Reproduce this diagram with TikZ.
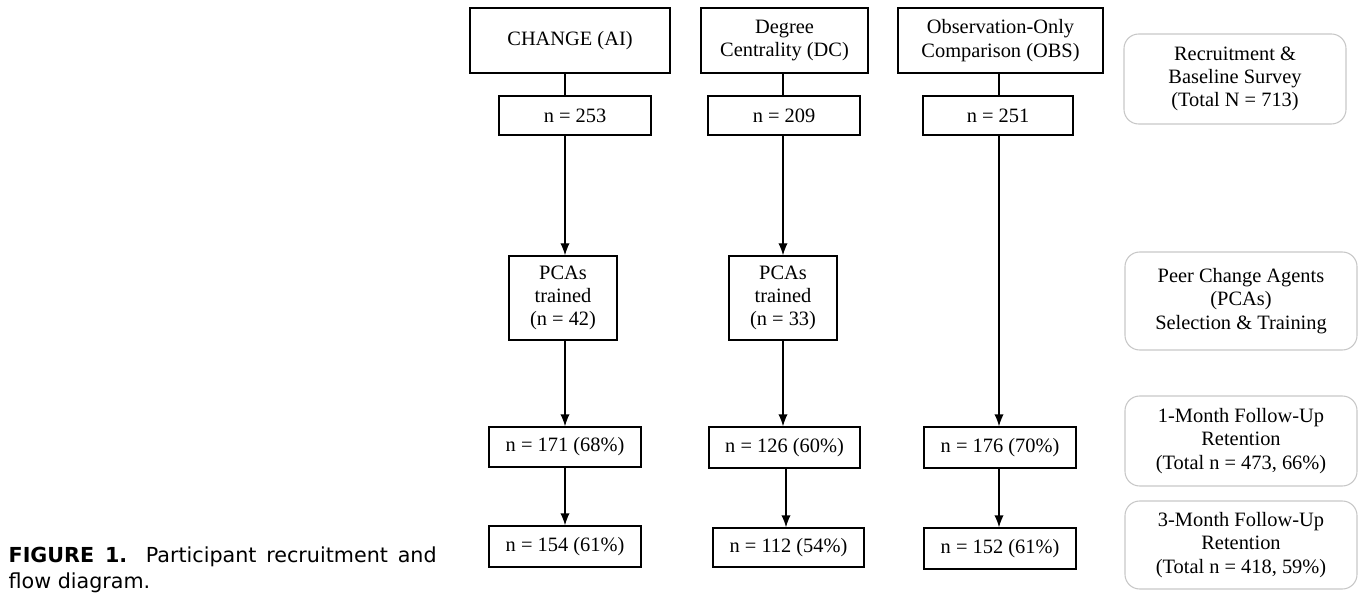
\documentclass[tikz,border=0pt]{standalone}
\usepackage{fontspec}
\setmainfont{Liberation Serif}
\newfontfamily\capfont{DejaVu Sans}
\usetikzlibrary{arrows.meta}
\tikzset{
	grp/.style    = {draw, line width=1pt, inner sep=0pt, align=center,
		font=\fontsize{15.3}{17.5}\selectfont},
	stage/.style  = {draw=black!22, line width=0.8pt, rounded corners=11pt,
		inner sep=0pt, align=center, font=\fontsize{15.3}{17.5}\selectfont},
	axis/.style   = {coordinate} % column line
}

\begin{document}
\begin{tikzpicture}[x=0.75pt, y=-0.75pt, line width=1pt, >={Latex[length=9pt,width=7pt]}]
\useasboundingbox (0,0) rectangle (1359,598);
\draw
node at (570,40.5) [grp, minimum width=150pt, minimum height=48.75pt] (t1) {CHANGE (AI)}
node at (784.5,40.5) [grp, minimum width=125.25pt, minimum height=48.75pt] (t2) {Degree\\Centrality (DC)}
node at (1000.5,40.5) [grp, minimum width=153.75pt, minimum height=48.75pt] (t3) {Observation-Only\\Comparison (OBS)}
node at (575,115.5) [grp, minimum width=114pt, minimum height=29.25pt] (n1) {n = 253}
node at (784,115.5) [grp, minimum width=114pt, minimum height=29.25pt] (n2) {n = 209}
node at (998,115.5) [grp, minimum width=112.5pt, minimum height=29.25pt] (n3) {n = 251}
node at (563,298) [grp, minimum width=81pt, minimum height=63pt] (p1) {PCAs\\trained\\(n = 42)}
node at (783,298) [grp, minimum width=81pt, minimum height=63pt] (p2) {PCAs\\trained\\(n = 33)}
node at (565,447) [grp, minimum width=114pt, minimum height=30pt] (f1) {n = 171 (68\%)}
node at (784.5,447.5) [grp, minimum width=113.25pt, minimum height=30.75pt] (f2) {n = 126 (60\%)}
node at (1000,447.5) [grp, minimum width=114pt, minimum height=30.75pt] (f3) {n = 176 (70\%)}
node at (565,546.5) [grp, minimum width=114pt, minimum height=30.75pt] (g1) {n = 154 (61\%)}
node at (788.5,547.5) [grp, minimum width=113.25pt, minimum height=29.25pt] (g2) {n = 112 (54\%)}
node at (1000,548.5) [grp, minimum width=114pt, minimum height=30.75pt] (g3) {n = 152 (61\%)};

% stages on the right
\draw
node at (1235,79) [stage, minimum width=166.5pt, minimum height=67.5pt] (r1) {Recruitment \&\\Baseline Survey\\(Total N = 713)}
node at (1241,301) [stage, minimum width=174pt, minimum height=73.5pt] (r2) {Peer Change Agents\\(PCAs)\\Selection \& Training}
node at (1241,441) [stage, minimum width=174pt, minimum height=67.5pt] (r3) {1-Month Follow-Up\\Retention\\(Total n = 473, 66\%)}
node at (1241,545) [stage, minimum width=174pt, minimum height=66pt] (r4) {3-Month Follow-Up\\Retention\\(Total n = 418, 59\%)};

\coordinate[axis] (a1) at (565,0);
\coordinate[axis] (a2) at (783,0);
\coordinate[axis] (a2b) at (786,0);
\coordinate[axis] (a3) at (999,0);

\draw[-](t1.south -| a1)--(n1.north -| a1);
\draw[->](n1.south -| a1)--(p1.north -| a1);
\draw[->](p1.south -| a1)--(f1.north -| a1);
\draw[->](f1.south -| a1)--(g1.north -| a1);
\draw[-](t2.south -| a2)--(n2.north -| a2);
\draw[->](n2.south -| a2)--(p2.north -| a2);
\draw[->](p2.south -| a2)--(f2.north -| a2);
\draw[->](f2.south -| a2b)--(g2.north -| a2b);
\draw[-](t3.south -| a3)--(n3.north -| a3);
\draw[->](n3.south -| a3)--(f3.north -| a3);
\draw[->](f3.south -| a3)--(g3.north -| a3);

% caption
\node[anchor=base west, inner sep=0pt, font=\capfont\fontsize{15.5}{19}\selectfont] (cap1) at (8,562)
	{\makebox[321pt][s]{\textbf{FIGURE 1.} Participant recruitment and}};
\node[anchor=base west, inner sep=0pt, font=\capfont\fontsize{15.5}{19}\selectfont] (cap2) at (8,588) {flow diagram.};
\end{tikzpicture}
\end{document}
